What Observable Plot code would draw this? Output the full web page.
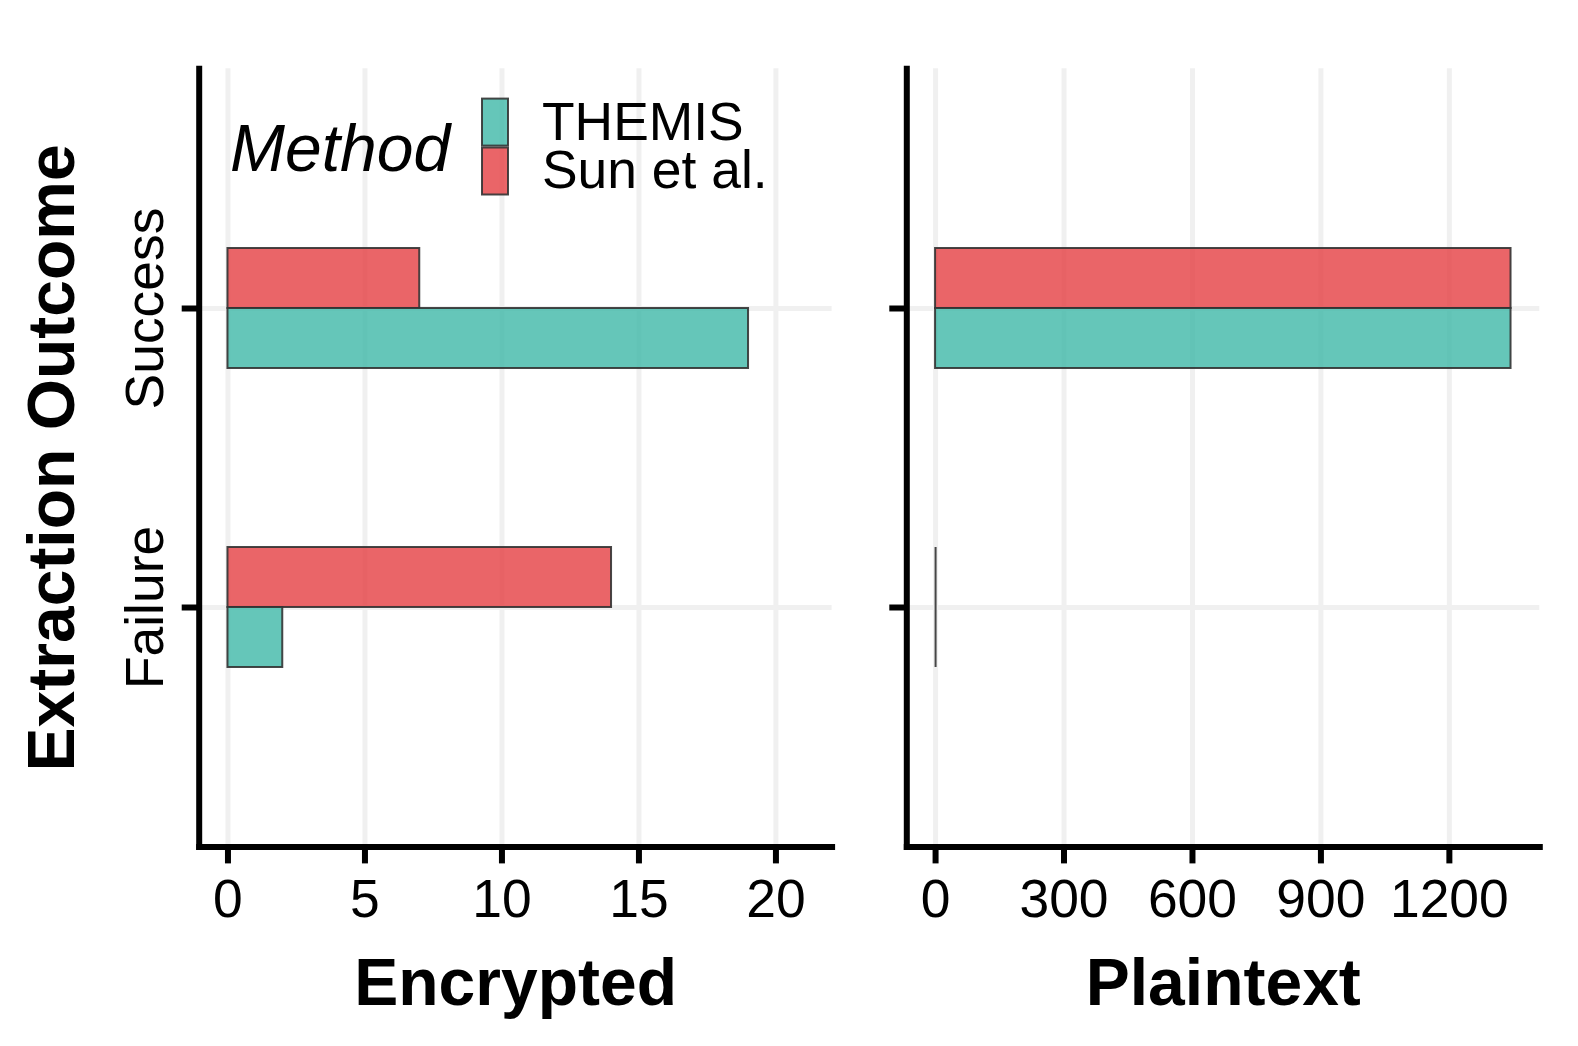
<!DOCTYPE html>
<html>
<head>
<meta charset="utf-8">
<script src="https://cdn.jsdelivr.net/npm/d3@7"></script>
<script src="https://cdn.jsdelivr.net/npm/@observablehq/plot@0.6"></script>
<style>
  html, body { margin: 0; padding: 0; background: #fff; }
  #chart { position: relative; width: 1578px; height: 1046px; background: #fff; overflow: hidden; }
  #chart svg { position: absolute; left: 0; top: 0; }
</style>
</head>
<body>
<div id="chart"></div>
<script>
// ---- data ----
const outcomes = ["Success", "Failure"];
const methods = ["THEMIS", "Sun et al."];
const encryptedTHEMIS = [19, 2];
const encryptedSun = [7, 14];
const plaintextTHEMIS = [1344, 0];
const plaintextSun = [1344, 0];
const encryptedTicks = [0, 5, 10, 15, 20];
const plaintextTicks = [0, 300, 600, 900, 1200];
const methodColors = ["#3EB8A8", "#E53E42"];
const panelTitles = ["Encrypted", "Plaintext"];
const yTitle = "Extraction Outcome";
const legendTitle = "Method";

function rowsFor(themis, sun) {
  const rows = [];
  outcomes.forEach((o, i) => {
    rows.push({outcome: o, method: methods[0], value: themis[i]});
    rows.push({outcome: o, method: methods[1], value: sun[i]});
  });
  return rows;
}

const FONT = "'Liberation Sans', Arial, Helvetica, sans-serif";
const TOP = 68.3, BOTTOM = 846.4, H = 1046;
const BAND = 120;
const TICKFS = 53.4, TITLEFS = 66;

function panel({rows, domain, ticks, title, marginLeft, marginRight, yLabels}) {
  const themisRows = rows.filter(d => d.method === methods[0]);
  const sunRows = rows.filter(d => d.method === methods[1]);
  const barOpts = {
    y: "outcome",
    stroke: "#333", strokeOpacity: 0.9, strokeWidth: 2,
    fillOpacity: 0.8
  };
  const tickOpts = {x: "value", y: "outcome", stroke: "#333", strokeOpacity: 0.9, strokeWidth: 2};
  const marks = [
    Plot.gridX(ticks, {stroke: "#f0f0f0", strokeOpacity: 1, strokeWidth: 5}),
    Plot.gridY(outcomes, {stroke: "#f0f0f0", strokeOpacity: 1, strokeWidth: 5}),
    Plot.barX(sunRows, {...barOpts, x1: 0, x2: "value", fill: methodColors[1], insetBottom: BAND / 2}),
    Plot.barX(themisRows, {...barOpts, x1: 0, x2: "value", fill: methodColors[0], insetTop: BAND / 2}),
    // zero-length bars collapse to their outline
    Plot.tickX(sunRows.filter(d => d.value === 0), {...tickOpts, insetBottom: BAND / 2}),
    Plot.tickX(themisRows.filter(d => d.value === 0), {...tickOpts, insetTop: BAND / 2}),
    Plot.frame({anchor: "left", stroke: "#000", strokeWidth: 6, strokeLinecap: "square"}),
    Plot.frame({anchor: "bottom", stroke: "#000", strokeWidth: 6, strokeLinecap: "square"}),
    Plot.axisX({ticks, tickFormat: d => String(d), tickSize: 17, tickPadding: 14.7, fontSize: TICKFS, strokeWidth: 6, label: null, fill: "#000", stroke: "#000"}),
    Plot.axisY({tickSize: 17, tickFormat: () => "", strokeWidth: 6, label: null, stroke: "#000"}),
    Plot.text([title], {frameAnchor: "bottom", dy: 1004.5 - BOTTOM, fontSize: TITLEFS, fontWeight: "bold", lineAnchor: "bottom", fill: "#000"})
  ];
  if (yLabels) {
    marks.push(Plot.text(outcomes, {y: d => d, text: d => d, frameAnchor: "left", dx: -36.5, rotate: -90,
      textAnchor: "middle", lineAnchor: "bottom", fontSize: TICKFS, fill: "#000"}));
    marks.push(Plot.text([yTitle], {frameAnchor: "left", dx: 73.5 - marginLeft, rotate: -90,
      textAnchor: "middle", lineAnchor: "bottom", fontSize: TITLEFS, fontWeight: "bold", fill: "#000"}));
  }
  return Plot.plot({
    width: 1578, height: H,
    marginLeft, marginRight, marginTop: TOP, marginBottom: H - BOTTOM,
    style: {fontFamily: FONT, color: "#000", background: "transparent", overflow: "visible"},
    x: {domain, axis: null},
    y: {domain: outcomes, paddingInner: 1 - BAND / 299.1, paddingOuter: 0.6, align: 0.5, axis: null},
    marks
  });
}

const chart = document.getElementById("chart");
chart.appendChild(panel({
  rows: rowsFor(encryptedTHEMIS, encryptedSun),
  domain: [-1.05, 22.05], ticks: encryptedTicks, title: panelTitles[0],
  marginLeft: 198.7, marginRight: 1578 - 831.6, yLabels: true
}));
chart.appendChild(panel({
  rows: rowsFor(plaintextTHEMIS, plaintextSun),
  domain: [-67.2, 1411.2], ticks: plaintextTicks, title: panelTitles[1],
  marginLeft: 906.3, marginRight: 1578 - 1539.3, yLabels: false
}));

// ---- legend (inside the left panel) ----
const leg = d3.select(chart).append("svg")
  .attr("width", 1578).attr("height", 1046)
  .style("font-family", FONT);
leg.append("text").attr("x", 230).attr("y", 171)
  .attr("font-size", TITLEFS).attr("font-style", "italic").attr("fill", "#000").text(legendTitle);
const keyY = [98.6, 147.5];
const labelY = [139.5, 187.5];
methods.forEach((m, i) => {
  leg.append("rect").attr("x", 482).attr("y", keyY[i]).attr("width", 26).attr("height", 47)
    .attr("fill", methodColors[i]).attr("fill-opacity", 0.8)
    .attr("stroke", "#333").attr("stroke-opacity", 0.9).attr("stroke-width", 2);
  leg.append("text").attr("x", 542).attr("y", labelY[i])
    .attr("font-size", TICKFS).attr("fill", "#000").text(m);
});
</script>
</body>
</html>
